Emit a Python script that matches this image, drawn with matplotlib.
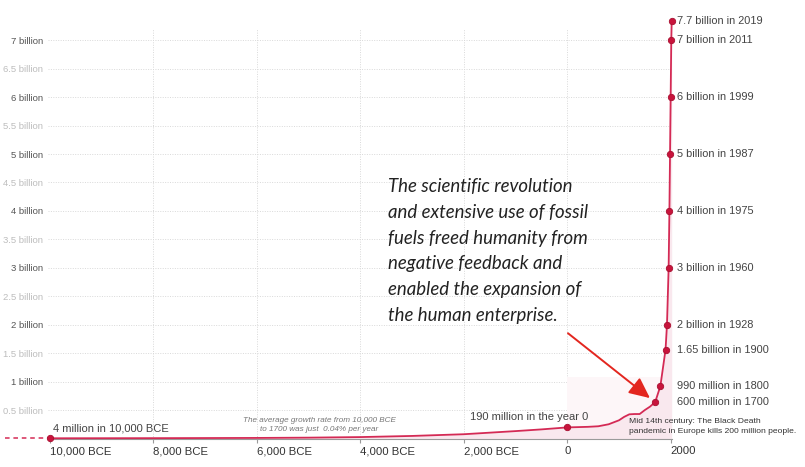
import matplotlib
matplotlib.use('Agg')
import matplotlib.pyplot as plt
from matplotlib.patches import Rectangle

# population curve (billions)
years = [-10000, -8000, -6000, -5000, -4000, -3000, -2000, -1000, -500, 0,
         200, 400, 600, 800, 1000, 1100, 1200, 1300, 1400, 1500, 1600,
         1700, 1800, 1900, 1928, 1960, 1975, 1987, 1999, 2011, 2019]
pop = [0.004, 0.006, 0.01, 0.015, 0.025, 0.045, 0.075, 0.13, 0.16, 0.195,
       0.20, 0.205, 0.215, 0.25, 0.32, 0.38, 0.425, 0.43, 0.43, 0.50, 0.56,
       0.64, 0.92, 1.56, 2.0, 3.0, 4.0, 5.0, 6.0, 7.0, 7.34]

# highlighted points
marker_years = [-10000, 0, 1700, 1800, 1900, 1928, 1960, 1975, 1987, 1999, 2011, 2019]
marker_pop = [0.004, 0.195, 0.64, 0.92, 1.56, 2.0, 3.0, 4.0, 5.0, 6.0, 7.0, 7.34]

right_labels = ['600 million in 1700', '990 million in 1800', '1.65 billion in 1900',
                '2 billion in 1928', '3 billion in 1960', '4 billion in 1975',
                '5 billion in 1987', '6 billion in 1999', '7 billion in 2011',
                '7.7 billion in 2019']
right_label_pop = [0.64, 0.92, 1.56, 2.0, 3.0, 4.0, 5.0, 6.0, 7.0, 7.34]

# dashed stub before 10,000 BCE
stub_years = [-10870, -10000]
stub_pop = [0.004, 0.004]

xtick_years = [-10000, -8000, -6000, -4000, -2000, 0, 2000]
xtick_labels = ['10,000 BCE', '8,000 BCE', '6,000 BCE', '4,000 BCE', '2,000 BCE', '0', '2000']
ytick_vals = [0.5, 1, 1.5, 2, 2.5, 3, 3.5, 4, 4.5, 5, 5.5, 6, 6.5, 7]
ytick_labels = ['0.5 billion', '1 billion', '1.5 billion', '2 billion', '2.5 billion',
                '3 billion', '3.5 billion', '4 billion', '4.5 billion', '5 billion',
                '5.5 billion', '6 billion', '6.5 billion', '7 billion']

quote_lines = ['The scientific revolution',
               'and extensive use of fossil',
               'fuels freed humanity from',
               'negative feedback and',
               'enabled the expansion of',
               'the human enterprise.']

LINE = '#d42a55'
MARK = '#c8143c'
W, H = 805, 467

plt.rcParams['font.family'] = ['Liberation Sans', 'DejaVu Sans']

fig = plt.figure(figsize=(W / 100, H / 100), dpi=100)
ax = fig.add_axes([48 / W, (H - 438.5) / H, 624 / W, 438.5 / H])
ax.set_xlim(-10039, 2025)
ax.set_ylim(0, 438.5 / 56.9)

for s in ['top', 'right', 'left']:
    ax.spines[s].set_visible(False)
ax.spines['bottom'].set_color('#9a9a9a')
ax.spines['bottom'].set_linewidth(0.8)

# grid
ax.hlines(ytick_vals, -10039, 2025, colors='#d9d9d9', linestyles=(0, (1, 1.5)), lw=0.7, zorder=0)
ax.vlines(xtick_years[1:-1], 0, 7.2, colors='#d9d9d9', linestyles=(0, (1, 1.5)), lw=0.7, zorder=0)

# shading
ax.add_patch(Rectangle((0, 0), 2019, 1.08, facecolor='#fdf6f8', edgecolor='none', zorder=0.5))
ax.fill_between(years, pop, 0, color='#f9e8ee', lw=0, zorder=0.6)

ax.plot(years, pop, color=LINE, lw=1.3, zorder=3, clip_on=False)
ax.plot(stub_years, stub_pop, color=LINE, lw=1.1, ls=(0, (3, 2.5)), zorder=3, clip_on=False)
ax.plot(marker_years, marker_pop, 'o', color=MARK, mec='#a80f30', mew=0.6, ms=4.6,
        zorder=4, clip_on=False)

# ticks
ax.set_xticks(xtick_years, xtick_labels)
ax.tick_params(axis='x', length=3, width=0.8, color='#9a9a9a', labelsize=8.2,
               labelcolor='#333333', pad=2.5)
for lab in ax.get_xticklabels():
    lab.set_ha('center' if lab.get_text() == '0' else 'left')
ax.set_yticks(ytick_vals, ytick_labels)
ax.tick_params(axis='y', length=0, labelsize=6.8, pad=3.6)
for lab, v in zip(ax.get_yticklabels(), ytick_vals):
    lab.set_color('#555555' if float(v).is_integer() else '#bdbdbd')

# right-hand labels
for txt, v in zip(right_labels, right_label_pop):
    ax.annotate(txt, xy=(1, v), xycoords=('axes fraction', 'data'), xytext=(3.6, 0),
                textcoords='offset points', ha='left', va='center', fontsize=7.9,
                color='#444444', annotation_clip=False)

ax.text(-9942, 0.18, '4 million in 10,000 BCE', fontsize=8, color='#444444',
        ha='left', va='center')
ax.text(400, 0.378, '190 million in the year 0', fontsize=8, color='#444444',
        ha='right', va='center')
ax.text(-4800, 0.245, 'The average growth rate from 10,000 BCE\nto 1700 was just  0.04% per year',
        fontsize=5.9, style='italic', color='#777777', ha='center', va='center',
        linespacing=1.4)
ax.text(1190, 0.215, 'Mid 14th century: The Black Death\npandemic in Europe kills 200 million people.',
        fontsize=6.1, color='#333333', ha='left', va='center', linespacing=1.5)

# arrow
ax.annotate('', xy=(1599, 0.71), xytext=(14, 1.85),
            arrowprops=dict(arrowstyle='-|>,head_length=0.9,head_width=0.42',
                            mutation_scale=14, color='#e3261f', lw=1.4,
                            shrinkA=0, shrinkB=0))

# quote
for i, line in enumerate(quote_lines):
    fig.text(388 / W, 1 - (187 + i * 25.6) / H, line, family=['Lato', 'DejaVu Sans'],
             style='italic', fontsize=13.4, color='#222222', ha='left', va='center')

fig.savefig('out.png', dpi=100)
